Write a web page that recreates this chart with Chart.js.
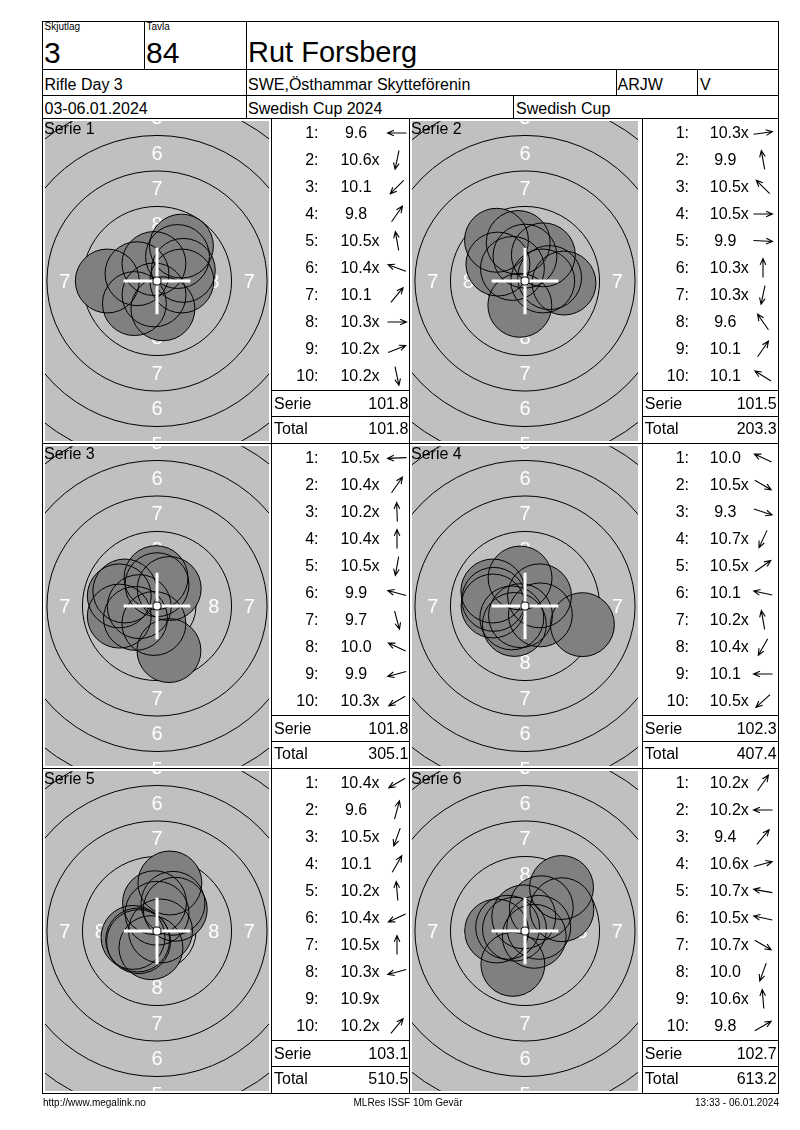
<!DOCTYPE html>
<html><head><meta charset="utf-8">
<script src="https://cdn.jsdelivr.net/npm/chart.js@4.4.1/dist/chart.umd.min.js"></script>
<style>
body{margin:0;background:#fff;font-family:'Liberation Sans',Arial,sans-serif;color:#000}
#page{position:relative;width:800px;height:1130px;overflow:hidden;background:#fff}
.l{position:absolute;background:#000}
.t{position:absolute;white-space:nowrap}
canvas{position:absolute}
svg{position:absolute}
</style></head><body><div id="page"></div>
<script>
// ---------- header texts ----------
const headerShooter = 'Rut Forsberg';
const headerRelay = '3';
const headerTarget = '84';
const headerEvent = 'Rifle Day 3';
const headerClub = 'SWE,Östhammar Skytteförenin';
const headerClass = 'ARJW';
const headerGroup = 'V';
const headerDate = '03-06.01.2024';
const headerComp = 'Swedish Cup 2024';
const headerCup = 'Swedish Cup';
const footerLeft = 'http://www.megalink.no';
const footerMid = 'MLRes ISSF 10m Gevär';
const footerRight = '13:33 - 06.01.2024';

// ---------- series data (score as printed, direction of shot in degrees, 0 = right, 90 = up) ----------
const seriesNames = ['Serie 1','Serie 2','Serie 3','Serie 4','Serie 5','Serie 6'];
const s1Scores = ['9.6','10.6x','10.1','9.8','10.5x','10.4x','10.1','10.3x','10.2x','10.2x'];
const s1Dirs   = [180, 258, 225, 55, 100, 160, 50, 0, 22, 282];
const s2Scores = ['10.3x','9.9','10.5x','10.5x','9.9','10.3x','10.3x','9.6','10.1','10.1'];
const s2Dirs   = [8, 100, 135, 0, 357, 90, 258, 125, 55, 148];
const s3Scores = ['10.5x','10.4x','10.2x','10.4x','10.5x','9.9','9.7','10.0','9.9','10.3x'];
const s3Dirs   = [182, 55, 92, 90, 260, 165, 285, 155, 195, 210];
const s4Scores = ['10.0','10.5x','9.3','10.7x','10.5x','10.1','10.2x','10.4x','10.1','10.5x'];
const s4Dirs   = [155, 330, 342, 245, 35, 168, 100, 240, 180, 222];
const s5Scores = ['10.4x','9.6','10.5x','10.1','10.2x','10.4x','10.5x','10.3x','10.9x','10.2x'];
const s5Dirs   = [210, 75, 250, 60, 95, 205, 90, 195, null, 50];
const s6Scores = ['10.2x','10.2x','9.4','10.6x','10.7x','10.5x','10.7x','10.0','10.6x','9.8'];
const s6Dirs   = [55, 180, 50, 15, 170, 168, 330, 250, 95, 30];
const serieSums = ['101.8','101.5','101.8','102.3','103.1','102.7'];
const runningTotals = ['101.8','203.3','305.1','407.4','510.5','613.2'];

// ---------- target geometry (ISSF 10 m rifle, mm) ----------
const ringRadiiMm = [2.75, 5.25, 7.75, 10.25, 12.75, 15.25];
const ringLabels = ['8','7','6','5'];
const ringLabelDistMm = [4.0, 6.5, 9.0, 11.5];
const tenDotMm = 0.25;
const pelletRadiusMm = 2.25;

const allScores = [s1Scores,s2Scores,s3Scores,s4Scores,s5Scores,s6Scores];
const allDirs = [s1Dirs,s2Dirs,s3Dirs,s4Dirs,s5Dirs,s6Dirs];

// ---------- layout ----------
const page = document.getElementById('page');
const PXMM = 14.2;
function line(x,y,w,h){const d=document.createElement('div');d.className='l';d.style.left=x+'px';d.style.top=y+'px';d.style.width=w+'px';d.style.height=h+'px';page.appendChild(d);}
function hl(x1,x2,y){line(x1,y,x2-x1+1,1);}
function vl(x,y1,y2){line(x,y1,1,y2-y1+1);}
function txt(x,base,size,str,align){
  const d=document.createElement('div');d.className='t';
  d.style.fontSize=size+'px';d.style.lineHeight=size+'px';
  d.style.top=(base-0.8465*size)+'px';d.style.left=x+'px';
  if(align==='right')d.style.transform='translateX(-100%)';
  if(align==='center')d.style.transform='translateX(-50%)';
  d.textContent=str;page.appendChild(d);return d;
}

// header grid
hl(42,778,21); hl(42,778,69); hl(42,778,95); hl(42,778,118);
vl(42,21,1093); vl(778,21,1093);
vl(144,21,69); vl(246,21,118); vl(616,69,95); vl(697,69,95); vl(513,95,118);
txt(44.5,30.5,10,'Skjutlag'); txt(146.5,30.5,10,'Tavla');
txt(44,63,30,headerRelay); txt(146,63,30,headerTarget); txt(248,63,29,headerShooter);
txt(44.5,90.5,16,headerEvent); txt(248,90.5,16,headerClub); txt(617.5,90.5,16,headerClass); txt(700,90.5,16,headerGroup);
txt(44.5,114.5,16,headerDate); txt(248,114.5,16,headerComp); txt(516,114.5,16,headerCup);

const rowTops = [118.5, 443.5, 768];
const rowLines = [118, 443, 768, 1093];
rowLines.forEach(y=>hl(42,778,y));
vl(271,118,1093); vl(409,118,1093); vl(642,118,1093);

const cols = [
  {boxL:45, boxW:224, tabL:271.7, tabR:409, numR:318.5, scoreC:356, arrowC:396.7, valR:408.3},
  {boxL:412, boxW:226, tabL:642.5, tabR:778, numR:689, scoreC:725.3, arrowC:763, valR:776.7}
];

// ---------- target drawing plugin ----------
const targetPlugin = {
  id:'targetRings',
  beforeDatasetsDraw(chart){
    const {ctx, chartArea:a, scales:{x,y}} = chart;
    const cx=x.getPixelForValue(0), cy=y.getPixelForValue(0);
    const k=x.getPixelForValue(1)-cx;
    ctx.save();
    ctx.fillStyle='#c0c0c0'; ctx.fillRect(a.left,a.top,a.right-a.left,a.bottom-a.top);
    ctx.strokeStyle='#000'; ctx.lineWidth=1;
    ringRadiiMm.forEach(r=>{ctx.beginPath();ctx.arc(cx,cy,r*k,0,Math.PI*2);ctx.stroke();});
    ctx.fillStyle='#fff'; ctx.font='20px "Liberation Sans", Arial, sans-serif';
    ctx.textAlign='center'; ctx.textBaseline='middle';
    ringLabels.forEach((lab,i)=>{
      const d=ringLabelDistMm[i]*k;
      ctx.fillText(lab,cx,cy-d+1); ctx.fillText(lab,cx,cy+d+1);
      ctx.fillText(lab,cx-d,cy+1); ctx.fillText(lab,cx+d,cy+1);
    });
    ctx.restore();
  },
  afterDatasetsDraw(chart){
    const {ctx, scales:{x,y}} = chart;
    const cx=x.getPixelForValue(0), cy=y.getPixelForValue(0);
    const k=x.getPixelForValue(1)-cx;
    const arm=2.35*k;
    ctx.save();
    ctx.strokeStyle='#fff'; ctx.lineWidth=3;
    ctx.beginPath(); ctx.moveTo(cx-arm,cy); ctx.lineTo(cx+arm,cy); ctx.moveTo(cx,cy-arm); ctx.lineTo(cx,cy+arm); ctx.stroke();
    ctx.fillStyle='#fff'; ctx.strokeStyle='#000'; ctx.lineWidth=1;
    ctx.beginPath(); ctx.arc(cx,cy,tenDotMm*k+0.5,0,Math.PI*2); ctx.fill(); ctx.stroke();
    ctx.restore();
  }
};

function pelletRadius(ctx){
  const s=ctx.chart.scales.x;
  if(!s) return 0;
  return s.getPixelForValue(pelletRadiusMm)-s.getPixelForValue(0);
}

function arrowSvg(cx,cy,deg){
  const ns='http://www.w3.org/2000/svg';
  const svg=document.createElementNS(ns,'svg');
  svg.setAttribute('width','24');svg.setAttribute('height','24');
  svg.style.left=(cx-12)+'px';svg.style.top=(cy-12)+'px';
  const t=deg*Math.PI/180, vx=Math.cos(t), vy=-Math.sin(t), L=9.5;
  const hx=12+vx*L, hy=12+vy*L, tx=12-vx*L, ty=12-vy*L;
  const b=7, a=0.42;
  const b1x=hx-b*(vx*Math.cos(a)-vy*Math.sin(a)), b1y=hy-b*(vx*Math.sin(a)+vy*Math.cos(a));
  const b2x=hx-b*(vx*Math.cos(-a)-vy*Math.sin(-a)), b2y=hy-b*(vx*Math.sin(-a)+vy*Math.cos(-a));
  const p=document.createElementNS(ns,'path');
  p.setAttribute('d',`M${tx},${ty}L${hx},${hy}M${b1x},${b1y}L${hx},${hy}L${b2x},${b2y}`);
  p.setAttribute('stroke','#000');p.setAttribute('stroke-width','1.1');p.setAttribute('fill','none');
  svg.appendChild(p);page.appendChild(svg);
}

for(let s=0;s<6;s++){
  const col=cols[s%2], T=rowTops[Math.floor(s/2)];
  const boxT=T+2.5, boxH=320;
  // target chart
  const cv=document.createElement('canvas');
  cv.width=col.boxW; cv.height=boxH;
  cv.style.left=col.boxL+'px'; cv.style.top=boxT+'px';
  cv.style.width=col.boxW+'px'; cv.style.height=boxH+'px';
  page.appendChild(cv);
  const pts=allScores[s].map((sc,i)=>{
    const v=parseFloat(sc), d=2.5*(11-v), a=(allDirs[s][i]||0)*Math.PI/180;
    return {x:d*Math.cos(a), y:d*Math.sin(a)};
  });
  const hx=col.boxW/2/PXMM, hy=boxH/2/PXMM;
  new Chart(cv,{
    type:'scatter',
    data:{datasets:[
      {label:'outline',data:pts,order:0,pointRadius:pelletRadius,pointBackgroundColor:'rgba(0,0,0,0)',pointBorderColor:'#000',pointBorderWidth:1,pointHoverRadius:pelletRadius},
      {label:'fill',data:pts,order:1,pointRadius:pelletRadius,pointBackgroundColor:'#808080',pointBorderColor:'rgba(0,0,0,0)',pointBorderWidth:0,pointHoverRadius:pelletRadius}
    ]},
    options:{
      responsive:false, animation:false, events:[],
      layout:{padding:0, autoPadding:false},
      plugins:{legend:{display:false},tooltip:{enabled:false}},
      scales:{
        x:{type:'linear',min:-hx,max:hx,display:false},
        y:{type:'linear',min:-hy,max:hy,display:false}
      }
    },
    plugins:[targetPlugin]
  });
  txt(col.boxL-1,T+16.2,16,seriesNames[s]);
  // score list
  allScores[s].forEach((sc,i)=>{
    const base=T+20.3+27*i;
    txt(col.numR,base,16,(i+1)+':','right');
    const inner=sc.endsWith('x');
    const w=txt(col.scoreC,base,16,inner?sc.slice(0,-1):sc,'center');
    if(inner){const sp=document.createElement('span');sp.textContent='x';sp.style.position='absolute';sp.style.left='100%';sp.style.top='0';w.appendChild(sp);}
    const dir=allDirs[s][i];
    if(dir!==null) arrowSvg(col.arrowC,base-5.5,dir);
  });
  hl(Math.round(col.tabL),col.tabR,Math.round(T+271.5));
  hl(Math.round(col.tabL),col.tabR,Math.round(T+297.5));
  txt(col.tabL+2.3,T+291.2,16,'Serie'); txt(col.valR,T+291.2,16,serieSums[s],'right');
  txt(col.tabL+2.3,T+316.2,16,'Total'); txt(col.valR,T+316.2,16,runningTotals[s],'right');
}

// footer
txt(43,1106,10,footerLeft); txt(408,1106,10,footerMid,'center'); txt(779,1106,10,footerRight,'right');
</script></body></html>
